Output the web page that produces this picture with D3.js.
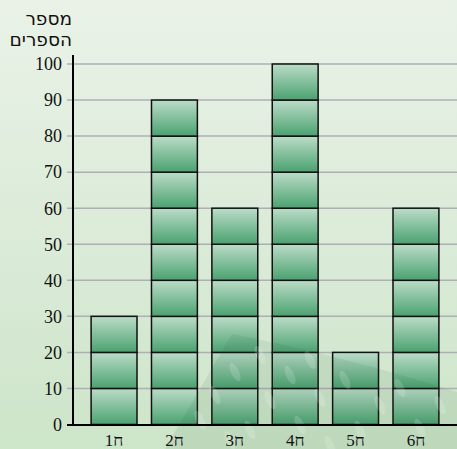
<!DOCTYPE html>
<html>
<head>
<meta charset="utf-8">
<script src="https://cdn.jsdelivr.net/npm/d3@7"></script>
<style>
  body { margin: 0; }
  svg { display: block; }
</style>
</head>
<body>
<div id="chart"></div>
<script>
// data
var classes = ["ח1", "ח2", "ח3", "ח4", "ח5", "ח6"];
var books = [30, 90, 60, 100, 20, 60];
var yTicks = [0, 10, 20, 30, 40, 50, 60, 70, 80, 90, 100];
var titleLines = ["מספר", "הספרים"];
var segment = 10;

var width = 457, height = 449;
var serif = "'Liberation Serif', 'DejaVu Serif', serif";

var svg = d3.select("#chart")
    .append("svg")
    .attr("width", width)
    .attr("height", height);

var defs = svg.append("defs");

var bg = defs.append("linearGradient")
    .attr("id", "bg")
    .attr("x1", 0).attr("y1", 0).attr("x2", 0).attr("y2", 1);
bg.append("stop").attr("offset", "0%").attr("stop-color", "#eaf2e8");
bg.append("stop").attr("offset", "100%").attr("stop-color", "#cde5c9");

var seg = defs.append("linearGradient")
    .attr("id", "seg")
    .attr("x1", 0).attr("y1", 0).attr("x2", 0).attr("y2", 1);
seg.append("stop").attr("offset", "0%").attr("stop-color", "#bcdcc8");
seg.append("stop").attr("offset", "100%").attr("stop-color", "#4aa270");

svg.append("rect")
    .attr("width", width)
    .attr("height", height)
    .attr("fill", "url(#bg)");

var x = d3.scaleBand()
    .domain(classes)
    .range([73, 457])
    .paddingInner(0.24)
    .paddingOuter(0.3);

var y = d3.scaleLinear()
    .domain([0, 100])
    .range([424.5, 64]);

// grid
svg.append("g")
    .selectAll("line")
    .data(yTicks.slice(1))
    .enter()
    .append("line")
    .attr("x1", 67)
    .attr("x2", width)
    .attr("y1", function(d) { return y(d); })
    .attr("y2", function(d) { return y(d); })
    .attr("stroke", "#aeaeb8")
    .attr("stroke-width", 1.5);

// y labels
svg.append("g")
    .selectAll("text")
    .data(yTicks)
    .enter()
    .append("text")
    .attr("x", 62)
    .attr("y", function(d) { return y(d); })
    .attr("dy", "0.35em")
    .attr("text-anchor", "end")
    .style("font-family", serif)
    .style("font-size", "18px")
    .attr("fill", "#111")
    .text(function(d) { return d; });

// stacked segments
var cells = [];
classes.forEach(function(c, i) {
    for (var v = 0; v < books[i]; v += segment) {
        cells.push({cls: c, lo: v, hi: Math.min(v + segment, books[i])});
    }
});

svg.append("g")
    .selectAll("rect")
    .data(cells)
    .enter()
    .append("rect")
    .attr("x", function(d) { return x(d.cls); })
    .attr("y", function(d) { return y(d.hi); })
    .attr("width", x.bandwidth())
    .attr("height", function(d) { return y(d.lo) - y(d.hi); })
    .attr("fill", "url(#seg)")
    .attr("stroke", "#111")
    .attr("stroke-width", 1.5);

// faint watermark, over the bars
var wm = svg.append("g");
wm.append("path")
    .attr("d", "M165,449 L232,334 Q340,355 457,392 L457,449 Z")
    .attr("fill", "rgba(30,90,55,0.09)");
var blobs = [[200,420],[215,395],[235,372],[250,430],[270,400],[290,375],[300,425],[320,398],[345,380],[360,430],[380,405],[400,388],[420,428],[440,405],[230,440],[330,445],[260,355],[310,360]];
wm.selectAll("ellipse")
    .data(blobs)
    .enter()
    .append("ellipse")
    .attr("cx", function(d) { return d[0]; })
    .attr("cy", function(d) { return d[1]; })
    .attr("rx", 4)
    .attr("ry", 10)
    .attr("transform", function(d) { return "rotate(-25," + d[0] + "," + d[1] + ")"; })
    .attr("fill", "rgba(255,255,255,0.16)");

// axes lines
svg.append("line")
    .attr("x1", 73).attr("x2", 73)
    .attr("y1", 55).attr("y2", 425.5)
    .attr("stroke", "#000")
    .attr("stroke-width", 2);
svg.append("line")
    .attr("x1", 67).attr("x2", width)
    .attr("y1", 425).attr("y2", 425)
    .attr("stroke", "#000")
    .attr("stroke-width", 2);

// x labels
svg.append("g")
    .selectAll("text")
    .data(classes)
    .enter()
    .append("text")
    .attr("x", function(d) { return x(d) + x.bandwidth() / 2; })
    .attr("y", 446)
    .attr("text-anchor", "middle")
    .style("font-family", serif)
    .style("font-size", "17px")
    .attr("fill", "#111")
    .text(function(d) { return d; });

// title
svg.append("g")
    .selectAll("text")
    .data(titleLines)
    .enter()
    .append("text")
    .attr("x", 72)
    .attr("y", function(d, i) { return 25 + i * 21; })
    .attr("text-anchor", "end")
    .style("font-family", "'DejaVu Sans', sans-serif")
    .style("font-size", "18.5px")
    .attr("fill", "#111")
    .text(function(d) { return d; });
</script>
</body>
</html>
